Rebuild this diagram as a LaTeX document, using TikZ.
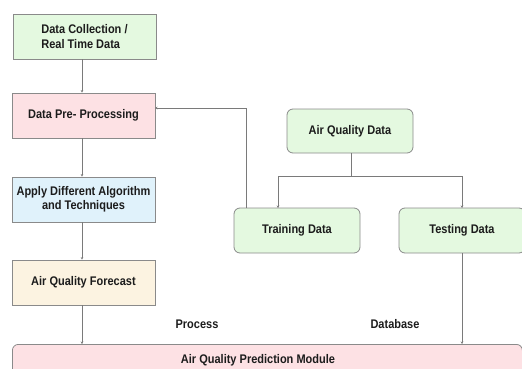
\documentclass[tikz,border=0pt]{standalone}
\usepackage{fontspec}
\setmainfont{Liberation Sans}[FakeStretch=0.88]
\usetikzlibrary{arrows.meta}
\definecolor{bordc}{HTML}{8A8A8A}
\definecolor{linec}{HTML}{7A7A7A}
\definecolor{greenf}{HTML}{E4F9E0}
\definecolor{pinkf}{HTML}{FDE1E4}
\definecolor{bluef}{HTML}{E0F2FB}
\definecolor{creamf}{HTML}{FCF3E1}
\definecolor{txtc}{HTML}{1C1C1C}
\tikzset{
  box/.style={draw=bordc, line width=0.8pt, inner sep=0pt, align=center,
    font=\fontsize{12.5}{14.5}\selectfont\bfseries, text=txtc},
  rbox/.style={box, rounded corners=6pt},
  conn/.style={draw=linec, line width=0.7pt, -{Stealth[length=2.5pt,width=2.5pt]}},
  lbl/.style={font=\fontsize{12.5}{14.5}\selectfont\bfseries, text=txtc, inner sep=0pt}
}
\begin{document}
\begin{tikzpicture}[x=1pt,y=-1pt]
\useasboundingbox (0,0) rectangle (522,369);
\node[box, fill=greenf, minimum width=143pt, minimum height=45pt, align=left] (dc) at (84.5,36.5) {Data Collection /\\Real Time Data};
\node[box, fill=pinkf, minimum width=143pt, minimum height=45pt] (pp) at (83.5,115.5) {Data Pre- Processing};
\node[box, fill=bluef, minimum width=143pt, minimum height=45pt] (ad) at (83.5,199.5) {Apply Different Algorithm\\and Techniques};
\node[box, fill=creamf, minimum width=143pt, minimum height=45pt] (af) at (83.5,282.5) {Air Quality Forecast};
\node[rbox, fill=pinkf, minimum width=510pt, minimum height=40pt, anchor=north west] (pm) at (12,344) {};
\node[lbl] (pmt) at (258,360) {Air Quality Prediction Module};
\node[rbox, fill=greenf, minimum width=126pt, minimum height=44pt] (aq) at (350,131) {Air Quality Data};
\node[rbox, fill=greenf, minimum width=126pt, minimum height=45pt] (tr) at (297,230.5) {Training Data};
\node[rbox, fill=greenf, minimum width=126pt, minimum height=45pt] (te) at (462,230.5) {Testing Data};
\node[lbl] (proc) at (197,324) {Process};
\node[lbl] (db) at (395,324) {Database};
\coordinate (split) at (351,176);
\coordinate (trin) at (278,208);
\coordinate (tein) at (462,208);
\coordinate (trout) at (246,208);
\coordinate (corner) at (246,108);
\coordinate (ppin) at (155,108);
\draw[conn] (dc.south -| 82,0) -- (pp.north -| 82,0);
\draw[conn] (pp.south -| 82,0) -- (ad.north -| 82,0);
\draw[conn] (ad.south -| 82,0) -- (af.north -| 82,0);
\draw[conn] (af.south -| 82,0) -- (pm.north -| 82,0);
\draw[conn] (te.south) -- (pm.north -| te.south);
\draw[draw=linec, line width=0.7pt] (aq.south -| split) -- (split);
\draw[conn] (split) -| (trin);
\draw[conn] (split) -| (tein);
\draw[conn] (trout) -- (corner) -- (ppin);
\end{tikzpicture}
\end{document}
